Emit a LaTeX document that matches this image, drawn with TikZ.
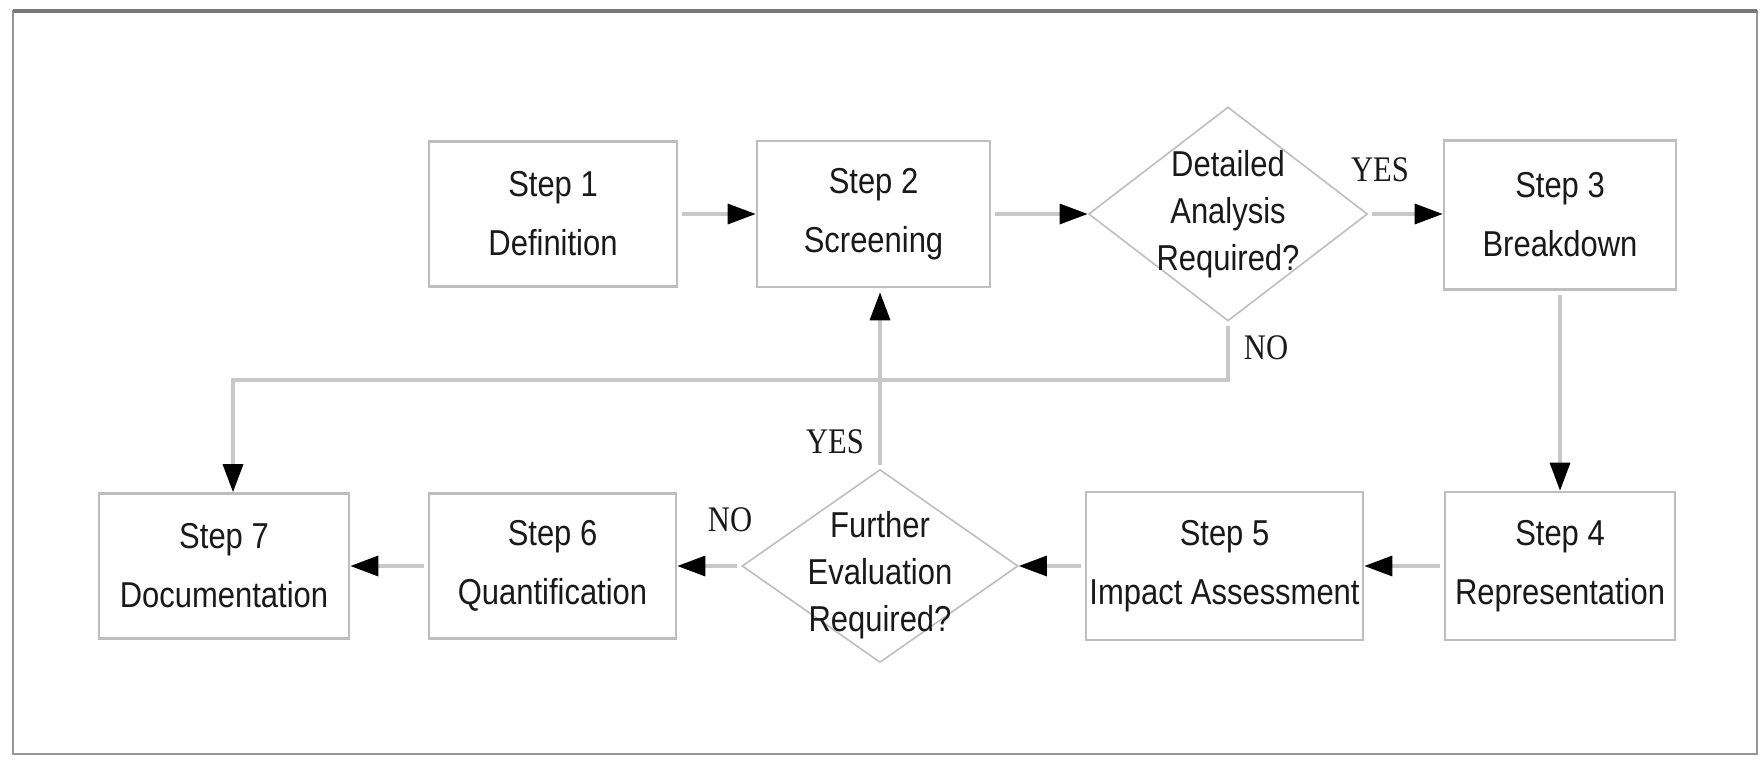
\documentclass[tikz,border=0pt]{standalone}
\usepackage{fontspec}
\setmainfont{Liberation Sans}
\newfontfamily\boxfont{Liberation Sans}[FakeStretch=0.86]
\newfontfamily\lblfont{Liberation Serif}[FakeStretch=0.85]
\usetikzlibrary{shapes.geometric,arrows.meta,calc}
\definecolor{linegray}{RGB}{200,200,200}
\definecolor{boxgray}{RGB}{190,190,190}
\definecolor{framegray}{RGB}{150,150,150}
\definecolor{txt}{RGB}{25,25,25}
\begin{document}
\begin{tikzpicture}[x=0.5pt,y=-0.5pt,
  stepbox/.style={rectangle, draw=boxgray, line width=1.3pt, inner sep=0pt, align=center,
    text=txt, font=\boxfont\fontsize{18}{29.5}\selectfont},
  dia/.style={diamond, draw=boxgray, line width=0.8pt, inner sep=0pt},
  dialbl/.style={align=center, text=txt, font=\boxfont\fontsize{18}{23.5}\selectfont, inner sep=0pt},
  conn/.style={draw=linegray, line width=1.6pt, shorten <=2pt,
    -{Triangle[length=14pt,width=10pt,color=black]}},
  yn/.style={text=txt, font=\lblfont\fontsize{18}{20}\selectfont, inner sep=0pt}
]
\useasboundingbox (0,0) rectangle (1764,760);
\fill[white] (0,0) rectangle (1764,760);
\draw[framegray, line width=1.2pt] (13,11) rectangle (1757,754);
\draw[framegray!80!black, line width=2pt] (13,11) -- (1757,11);

% top row
\node[stepbox, minimum width=124pt, minimum height=72.5pt] (s1) at (553,214) {Step 1\\Definition};
\node[stepbox, minimum width=116.5pt, minimum height=73pt] (s2) at (873.5,214) {Step 2\\Screening};
\node[dia, minimum width=139.5pt, minimum height=107pt,
  label={[dialbl]center:{Detailed\\Analysis\\Required?}}] (d1) at (1228,214) {};
\node[stepbox, minimum width=116pt, minimum height=74.5pt] (s3) at (1560,215) {Step 3\\Breakdown};

% bottom row
\node[stepbox, minimum width=115pt, minimum height=74pt] (s4) at (1560,566) {Step 4\\Representation};
\node[stepbox, minimum width=138.5pt, minimum height=74pt] (s5) at (1224.5,566) {Step 5\\Impact Assessment};
\node[dia, minimum width=138pt, minimum height=96.5pt,
  label={[dialbl, yshift=-4.5pt]center:{Further\\Evaluation\\Required?}}] (d2) at (880,566) {};
\node[stepbox, minimum width=123.5pt, minimum height=72.5pt] (s6) at (552.5,566) {Step 6\\Quantification};
\node[stepbox, minimum width=125pt, minimum height=72.5pt] (s7) at (224,566) {Step 7\\Documentation};

% connectors
\draw[conn] (s1) -- (s2);
\draw[conn] (s2) -- (d1);
\draw[conn] (d1.east) -- (d1.east -| s3.west);
\draw[conn] (s3) -- (s4);
\draw[conn] (s4) -- (s5);
\draw[conn] (s5) -- (d2);
\draw[conn] (d2) -- (s6);
\draw[conn] (s6) -- (s7);
\draw[conn, shorten >=2pt] (d2.north) -- (d2.north |- s2.south);
\coordinate (noturn) at (233,380);
\draw[conn] (d1.south) |- (noturn) -- (noturn |- s7.north);

% labels
\node[yn] (yes1) at (1380,170) {YES};
\node[yn] (no1) at (1266,348) {NO};
\node[yn] (yes2) at (835,442) {YES};
\node[yn] (no2) at (730,520) {NO};
\end{tikzpicture}
\end{document}
